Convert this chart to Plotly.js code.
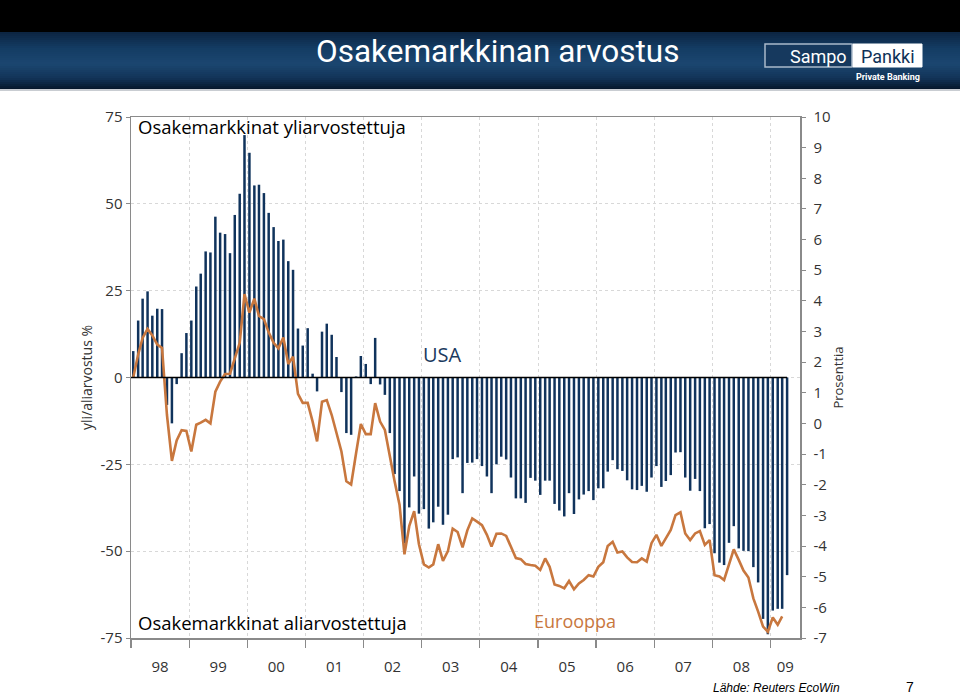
<!DOCTYPE html>
<html><head><meta charset="utf-8">
<script src="https://cdn.plot.ly/plotly-3.0.1.min.js"></script>
<style>html,body{margin:0;padding:0;background:#fff;} #chart{width:960px;height:697px;}</style>
</head><body><div id="chart"></div>
<script>
// ---- data ----
const yearLabels = ['98','99','00','01','02','03','04','05','06','07','08','09'];
const firstYear = 1998;
const leftTicks = [-75, -50, -25, 0, 25, 50, 75];
const leftTickText = ['-75', '-50', '-25', '0', '25', '50', '75'];
const rightTicks = [-7, -6, -5, -4, -3, -2, -1, 0, 1, 2, 3, 4, 5, 6, 7, 8, 9, 10];
const rightTickText = ['-7', '-6', '-5', '-4', '-3', '-2', '-1', '0', '1', '2', '3', '4', '5', '6', '7', '8', '9', '10'];
const usaValues = [
  7.6, 16.4, 22.7, 24.8, 17.8, 19.8, 19.7, -7.9, -13.2, -1.9, 7.0, 12.8,
  16.4, 26.2, 29.9, 36.3, 36.0, 46.3, 41.7, 41.3, 35.8, 46.8, 52.9, 69.8,
  64.7, 55.3, 55.5, 53.1, 47.4, 43.3, 39.3, 39.7, 33.5, 31.0, 14.1, 9.2,
  14.2, 1.1, -4.0, 13.2, 15.5, 12.3, 5.9, -4.2, -16.0, -16.5, 0.3, 6.2,
  3.9, -1.9, 11.4, -2.0, -5.0, -16.0, -27.8, -32.7, -47.8, -37.4, -28.5, -39.2,
  -37.9, -43.5, -41.7, -37.2, -42.4, -39.5, -23.5, -23.0, -33.3, -24.6, -24.5, -23.5,
  -25.5, -28.5, -33.3, -25.0, -22.8, -23.6, -28.8, -34.8, -34.8, -36.1, -28.9, -29.7,
  -33.8, -29.7, -29.7, -36.4, -38.3, -40.0, -33.3, -39.3, -35.1, -33.7, -32.7, -35.3,
  -31.9, -31.9, -27.1, -23.8, -26.4, -26.9, -29.6, -32.2, -32.4, -31.2, -32.9, -28.8,
  -25.5, -31.5, -29.8, -28.1, -21.6, -21.5, -28.8, -32.6, -29.2, -32.7, -43.4, -42.2,
  -50.6, -53.3, -54.0, -47.6, -42.8, -49.2, -49.9, -50.0, -54.6, -59.0, -69.5, -73.9,
  -67.1, -66.6, -66.6, -56.9
];
const europeValues = [
  0, 6.6, 11.4, 14.0, 12.1, 9.5, 8.5, -10.8, -24.0, -18.1, -15.2, -15.4,
  -21.3, -13.6, -13.0, -12.2, -13.2, -4.1, -1.2, 1.0, 1.1, 5.4, 10.0, 24.0,
  18.7, 22.7, 17.7, 16.8, 13.0, 10.0, 8.4, 11.5, 3.9, 6.0, -4.7, -7.3,
  -7.3, -12.7, -18.4, -7.0, -6.5, -10.8, -16.0, -21.3, -29.9, -30.8, -21.8, -13.4,
  -16.3, -16.3, -7.4, -12.7, -15.1, -23.2, -29.9, -36.6, -50.9, -42.8, -38.5, -48.0,
  -53.8, -54.7, -53.8, -48.0, -52.8, -50.0, -43.5, -44.5, -48.9, -44.0, -40.6, -41.5,
  -42.5, -45.3, -48.7, -45.0, -44.9, -45.6, -48.7, -52.0, -52.3, -53.7, -54.0, -54.2,
  -55.4, -52.1, -54.5, -59.6, -60.0, -60.7, -58.6, -61.0, -59.3, -58.3, -56.9, -57.3,
  -54.5, -53.2, -48.5, -47.3, -50.4, -50.1, -51.8, -53.1, -53.2, -52.1, -53.0, -47.7,
  -45.3, -48.5, -46.3, -43.9, -39.6, -38.8, -44.9, -46.8, -44.9, -44.2, -48.2, -46.8,
  -56.9, -57.3, -58.3, -53.5, -49.5, -52.5, -55.6, -57.6, -63.6, -67.4, -71.7, -73.2,
  -69.1, -71.2, -68.8
];
const leftRange = [-75, 75];
const rightRange = [-7, 10];
const xRange = ['1998-01-01', '2009-07-05'];

// ---- helpers ----
function monthDate(i){
  const y = firstYear + Math.floor(i/12);
  const m = (i % 12) + 1;
  return y + '-' + (m < 10 ? '0' + m : m) + '-15';
}
const usaDates = usaValues.map((v,i)=>monthDate(i));
const europeDates = europeValues.map((v,i)=>monthDate(i));

const endMs = Date.parse(xRange[1] + 'T00:00:00Z');
const yearStarts = [], yearMids = [];
yearLabels.forEach((lab,k)=>{
  const s = Date.UTC(firstYear + k, 0, 1);
  const e = Math.min(Date.UTC(firstYear + k + 1, 0, 1), endMs);
  yearStarts.push(new Date(s).toISOString().slice(0,10));
  yearMids.push(new Date((s+e)/2).toISOString().slice(0,19).replace('T',' '));
});

const W = 960, H = 697, L = 131, R = 800, T = 117, B = 638;
const px = x => (x - L) / (R - L);
const py = y => (B - y) / (B - T);

// header gradient strips
function lerp(a,b,t){return Math.round(a+(b-a)*t);}
function hex(c){return [parseInt(c.slice(1,3),16),parseInt(c.slice(3,5),16),parseInt(c.slice(5,7),16)];}
const stops = [[32,'#0b2340'],[48,'#143c63'],[64,'#1b4670'],[78,'#123458'],[89,'#06172b']];
function colorAt(y){
  for(let i=0;i<stops.length-1;i++){
    if(y>=stops[i][0] && y<=stops[i+1][0]){
      const t=(y-stops[i][0])/(stops[i+1][0]-stops[i][0]);
      const a=hex(stops[i][1]), b=hex(stops[i+1][1]);
      return 'rgb('+lerp(a[0],b[0],t)+','+lerp(a[1],b[1],t)+','+lerp(a[2],b[2],t)+')';
    }
  }
  return stops[stops.length-1][1];
}
const shapes = [];
shapes.push({type:'rect', xref:'paper', yref:'paper', x0:px(0), x1:px(W), y0:py(32), y1:py(0), fillcolor:'#000000', line:{width:0}, layer:'below'});
for(let y=32;y<89;y+=2){
  shapes.push({type:'rect', xref:'paper', yref:'paper', x0:px(0), x1:px(W), y0:py(y+2.2), y1:py(y), fillcolor:colorAt(y+1), line:{width:0}, layer:'below'});
}
shapes.push({type:'rect', xref:'paper', yref:'paper', x0:px(0), x1:px(W), y0:py(91), y1:py(89), fillcolor:'#c9cdd2', line:{width:0}, layer:'below'});
// logo boxes
shapes.push({type:'rect', xref:'paper', yref:'paper', x0:px(765), x1:px(852), y0:py(67), y1:py(44), fillcolor:'#16395e', line:{color:'#a9b9ca', width:1.5}});
shapes.push({type:'rect', xref:'paper', yref:'paper', x0:px(853), x1:px(922), y0:py(67), y1:py(44), fillcolor:'#ffffff', line:{color:'#ffffff', width:1}});
// bar baseline
shapes.push({type:'line', xref:'x', yref:'y', x0:xRange[0], x1:usaDates[usaDates.length-1], y0:0, y1:0, line:{color:'#000000', width:1.6}, layer:'above'});

const textFont = 'Open Sans, DejaVu Sans, sans-serif';
const annotations = [
  {text:'Osakemarkkinan arvostus', xref:'paper', yref:'paper', x:px(497), y:py(51), xanchor:'center', yanchor:'middle', showarrow:false, font:{family:'Roboto, sans-serif', size:31.5, color:'#ffffff'}},
  {text:'Sampo', xref:'paper', yref:'paper', x:px(849), y:py(56), xanchor:'right', yanchor:'middle', showarrow:false, font:{family:'Roboto, sans-serif', size:18, color:'#ffffff'}},
  {text:'Pankki', xref:'paper', yref:'paper', x:px(887.5), y:py(56), xanchor:'center', yanchor:'middle', showarrow:false, font:{family:'Roboto, sans-serif', size:18, color:'#0f3157'}},
  {text:'Private Banking', xref:'paper', yref:'paper', x:px(922), y:py(77), xanchor:'right', yanchor:'middle', showarrow:false, font:{family:'Roboto, sans-serif', size:9, color:'#ffffff', weight:700}},
  {text:'Osakemarkkinat yliarvostettuja', xref:'paper', yref:'paper', x:px(136), y:py(127), xanchor:'left', yanchor:'middle', showarrow:false, font:{family:textFont, size:18.5, color:'#000000'}},
  {text:'Osakemarkkinat aliarvostettuja', xref:'paper', yref:'paper', x:px(136), y:py(622), xanchor:'left', yanchor:'middle', showarrow:false, font:{family:textFont, size:18.5, color:'#000000'}},
  {text:'USA', xref:'paper', yref:'paper', x:px(442), y:py(354), xanchor:'center', yanchor:'middle', showarrow:false, font:{family:textFont, size:20, color:'#1b3a5e'}},
  {text:'Eurooppa', xref:'paper', yref:'paper', x:px(575), y:py(621), xanchor:'center', yanchor:'middle', showarrow:false, font:{family:textFont, size:18, color:'#c8773e'}},
  {text:'<i>Lähde: Reuters EcoWin</i>', xref:'paper', yref:'paper', x:px(776), y:py(688), xanchor:'center', yanchor:'middle', showarrow:false, font:{family:'Liberation Sans, Arial, sans-serif', size:12, color:'#000000'}},
  {text:'7', xref:'paper', yref:'paper', x:px(910), y:py(687), xanchor:'center', yanchor:'middle', showarrow:false, font:{family:'Liberation Sans, Arial, sans-serif', size:14, color:'#000000'}}
];

const axisColor = '#8a8a8a';
const gridColor = '#d8d8d8';
const tickFont = {family:textFont, size:15, color:'#333333'};

const traces = [
  {type:'bar', name:'USA', x:usaDates, y:usaValues, marker:{color:'#10335c', line:{width:0}}, hoverinfo:'x+y'},
  {type:'scatter', mode:'lines', name:'Eurooppa', x:europeDates, y:europeValues, line:{color:'#c8773e', width:2.6}},
  {type:'scatter', mode:'lines', name:'', x:[], y:[], yaxis:'y2', showlegend:false, hoverinfo:'skip'}
];

const layout = {
  width:W, height:H,
  margin:{l:L, r:W-R, t:T, b:H-B, pad:0},
  paper_bgcolor:'#ffffff', plot_bgcolor:'#ffffff',
  showlegend:false,
  bargap:0.44,
  xaxis:{
    type:'date', range:xRange, tickmode:'array', tickvals:yearMids, ticktext:yearLabels,
    ticks:'', showgrid:false, zeroline:false,
    showline:true, linecolor:axisColor, linewidth:1.5, mirror:true,
    tickfont:{family:textFont, size:15, color:'#333333'}, ticklabelstandoff:14,
    minor:{tickmode:'array', tickvals:yearStarts, ticks:'outside', ticklen:8, tickcolor:axisColor, tickwidth:1.2,
           showgrid:true, gridcolor:gridColor, griddash:'3px,3px', gridwidth:1}
  },
  yaxis:{
    range:leftRange, tickmode:'array', tickvals:leftTicks, ticktext:leftTickText,
    ticks:'outside', ticklen:4, tickcolor:axisColor,
    showline:true, linecolor:axisColor, linewidth:1.5, mirror:true,
    showgrid:true, gridcolor:gridColor, griddash:'3px,3px', gridwidth:1, zeroline:false,
    tickfont:tickFont,
    title:{text:'yli/aliarvostus %', font:{family:textFont, size:14, color:'#333333'}, standoff:4}
  },
  yaxis2:{
    overlaying:'y', side:'right', anchor:'x', range:rightRange, tickmode:'array', tickvals:rightTicks, ticktext:rightTickText,
    ticks:'outside', ticklen:4, tickcolor:axisColor,
    showline:true, linecolor:axisColor, linewidth:1.5,
    showgrid:false, zeroline:false,
    tickfont:tickFont, ticklabelstandoff:5,
    title:{text:'Prosenttia', font:{family:textFont, size:13, color:'#333333'}, standoff:4}
  },
  shapes:shapes,
  annotations:annotations
};

Plotly.newPlot('chart', traces, layout, {displayModeBar:false, staticPlot:true});
</script>
</body></html>
